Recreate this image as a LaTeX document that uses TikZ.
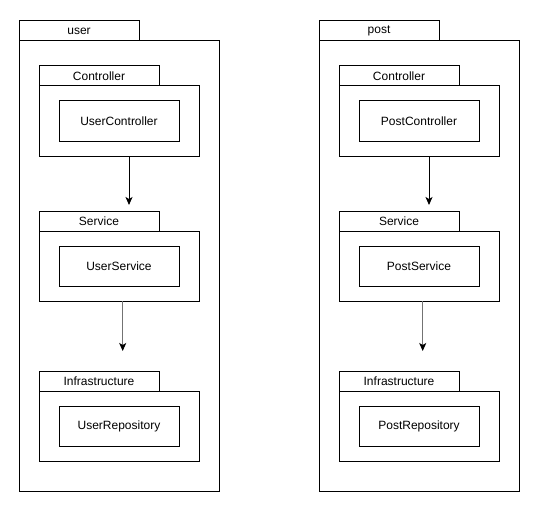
\documentclass[tikz,border=0pt]{standalone}
\usepackage{fontspec}
\setmainfont{Liberation Sans}
\usetikzlibrary{arrows.meta,calc}
\begin{document}
\begin{tikzpicture}[x=1pt,y=-1pt,
  box/.style={draw=black,line width=1pt,fill=white,inner sep=0pt,outer sep=0pt,anchor=north west,font=\fontsize{12}{14}\selectfont},
  tabbox/.style={box,minimum width=120pt,minimum height=20pt},
  bodybox/.style={box,minimum width=160pt,minimum height=70pt},
  outerbody/.style={box,minimum width=200pt,minimum height=450pt},
  classbox/.style={box,minimum width=120pt,minimum height=40pt},
  flow/.style={line width=1pt,-{Stealth[length=8pt,width=7pt,inset=2pt,black]}}]
\useasboundingbox (0,0) rectangle (534,513);
\foreach \ox/\pk/\nm in {0/user/User,300/post/Post}{
  \node[tabbox] (\pk tab) at (19+\ox,21) {\pk};
  \node[outerbody] (\pk body) at (19+\ox,41) {};
  % Controller
  \node[tabbox] (\pk ctab) at (39+\ox,66) {Controller};
  \node[bodybox] (\pk cbody) at (39+\ox,86) {};
  \node[classbox] (\pk ctrl) at (59+\ox,101) {\nm Controller};
  % Service
  \node[tabbox] (\pk stab) at (39+\ox,211) {Service};
  \node[bodybox] (\pk sbody) at (39+\ox,231) {};
  \node[classbox] (\pk svc) at (59+\ox,246) {\nm Service};
  % Infrastructure
  \node[tabbox] (\pk itab) at (39+\ox,371) {Infrastructure};
  \node[bodybox] (\pk ibody) at (39+\ox,391) {};
  \node[classbox] (\pk repo) at (59+\ox,406) {\nm Repository};
  % arrows
  \coordinate (\pk a1s) at ($(\pk cbody.south)+(10,0)$);
  \coordinate (\pk a1e) at ($(\pk stab.north)+(30,-6)$);
  \draw[flow] (\pk a1s) -- (\pk a1e);
  \coordinate (\pk a2s) at ($(\pk sbody.south)+(3.7,0)$);
  \coordinate (\pk a2e) at ($(\pk itab.north)+(23.7,-20)$);
  \draw[flow,draw=black!55] (\pk a2s) -- (\pk a2e);
}
\end{tikzpicture}
\end{document}
